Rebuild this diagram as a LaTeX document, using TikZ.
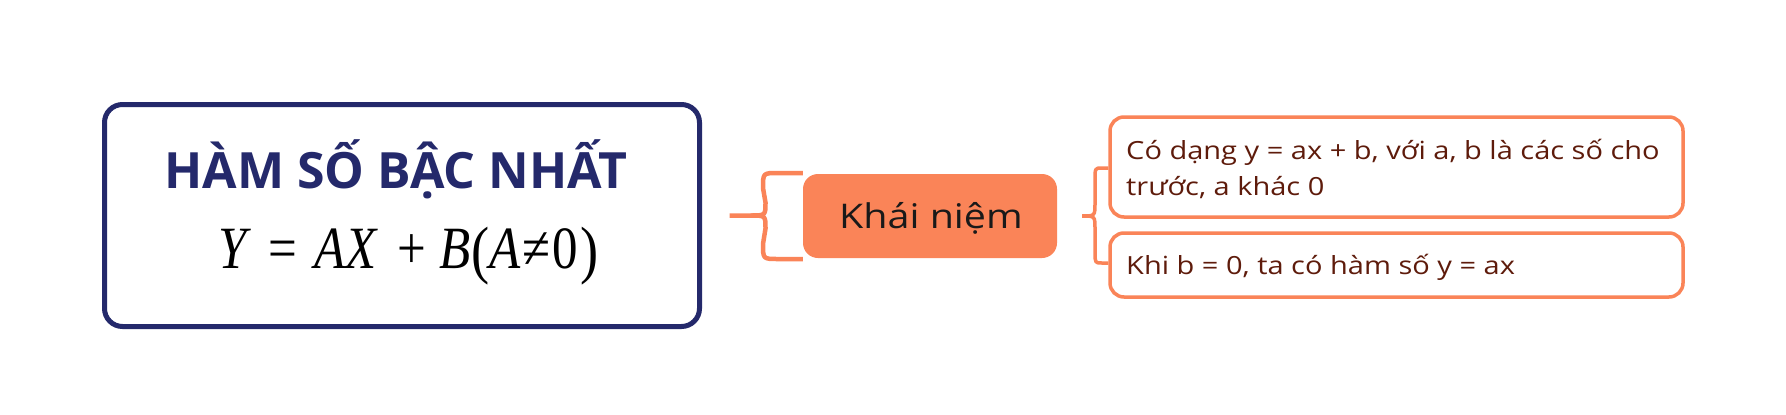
\documentclass[tikz,border=0pt]{standalone}
\usepackage{fontspec}
\setmainfont{Open Sans}
\newfontfamily\timesf[FakeStretch=0.85]{Liberation Serif}
\newfontfamily\widesans[FakeStretch=1.16]{Open Sans}
\definecolor{navy}{HTML}{24296B}
\definecolor{orng}{HTML}{FA8458}
\definecolor{brwn}{HTML}{5E1B0B}
\tikzset{
  mainbox/.style={draw=navy, line width=5pt, rounded corners=18pt, fill=white, inner sep=0pt},
  konbox/.style={fill=orng, rounded corners=15pt, inner sep=0pt},
  leafbox/.style={draw=orng, line width=3.5pt, rounded corners=14pt, fill=white, inner sep=0pt},
  bracel/.style={draw=orng, line width=4.5pt, line cap=butt, line join=round},
  lefttxt/.style={anchor=base west, inner sep=0pt, text=brwn, font=\fontsize{25}{30}\selectfont\widesans},
}
\begin{document}
\begin{tikzpicture}[x=1pt,y=-1pt]
\useasboundingbox[fill=white] (0,0) rectangle (1786,415);
% main box
\node[mainbox, minimum width=595pt, minimum height=222pt] (main) at (402,215.5) {};
\node[anchor=base, inner sep=0pt, text=navy, font=\fontsize{50}{60}\selectfont\bfseries] (title) at (396,188) {HÀM SỐ BẬC NHẤT};
\node[anchor=base west, inner sep=0pt, font=\fontsize{60}{72}\selectfont\timesf] (formula) at (218,268)
  {\itshape Y\hspace{22pt}{\upshape =}\hspace{17pt}AX\hspace{21pt}{\upshape +}\hspace{13pt}B\hspace{1pt}{\upshape\raisebox{-3pt}{\fontsize{64}{70}\selectfont(}}A\hspace{2pt}{\upshape ≠}\hspace{2pt}{\upshape 0\hspace{2pt}\raisebox{-3pt}{\fontsize{64}{70}\selectfont)}}};
% concept node
\node[konbox, minimum width=254pt, minimum height=84pt] (kn) at (930,216) {};
\node[anchor=base, inner sep=0pt, font=\fontsize{34}{40}\selectfont\widesans, text=black!90] (kntxt) at (931,228) {Khái niệm};
% leaf boxes
\node[leafbox, minimum width=573pt, minimum height=100pt] (b1) at (1396.5,167) {};
\node[leafbox, minimum width=573pt, minimum height=64pt] (b2) at (1396.5,265) {};
\node[lefttxt] (b1a) at (1126,159) {Có dạng y = ax + b, với a, b là các số cho};
\node[lefttxt] (b1b) at (1126,195) {trước, a khác 0};
\node[lefttxt] (b2a) at (1126,274) {Khi b = 0, ta có hàm số y = ax};
% brace 1 : main -> concept
\coordinate (s1) at ([xshift=27.5pt]main.east);
\draw[bracel] (s1) -- ++(21,0) .. controls ++(15,0) and ++(0,13) .. ++(15,-13) -- (763,188)
   .. controls (763,173) .. (778,173) -- (kn.west |- 0,173);
\draw[bracel] ([xshift=21pt]s1) .. controls ++(15,0) and ++(0,-13) .. ++(15,13) -- (763,244)
   .. controls (763,259) .. (778,259) -- (kn.west |- 0,259);
% brace 2 : concept -> leaves
\coordinate (s2) at (1082,216);
\draw[bracel, line width=3.5pt] (s2) .. controls (1095,216) .. (1095,203) -- (1095,180)
   .. controls (1095,168) .. (1102,168) -- (b1.west |- 0,168);
\draw[bracel, line width=3.5pt] (s2) .. controls (1095,216) .. (1095,229) -- (1095,252)
   .. controls (1095,263) .. (1102,263) -- (b2.west |- 0,263);
\end{tikzpicture}
\end{document}
